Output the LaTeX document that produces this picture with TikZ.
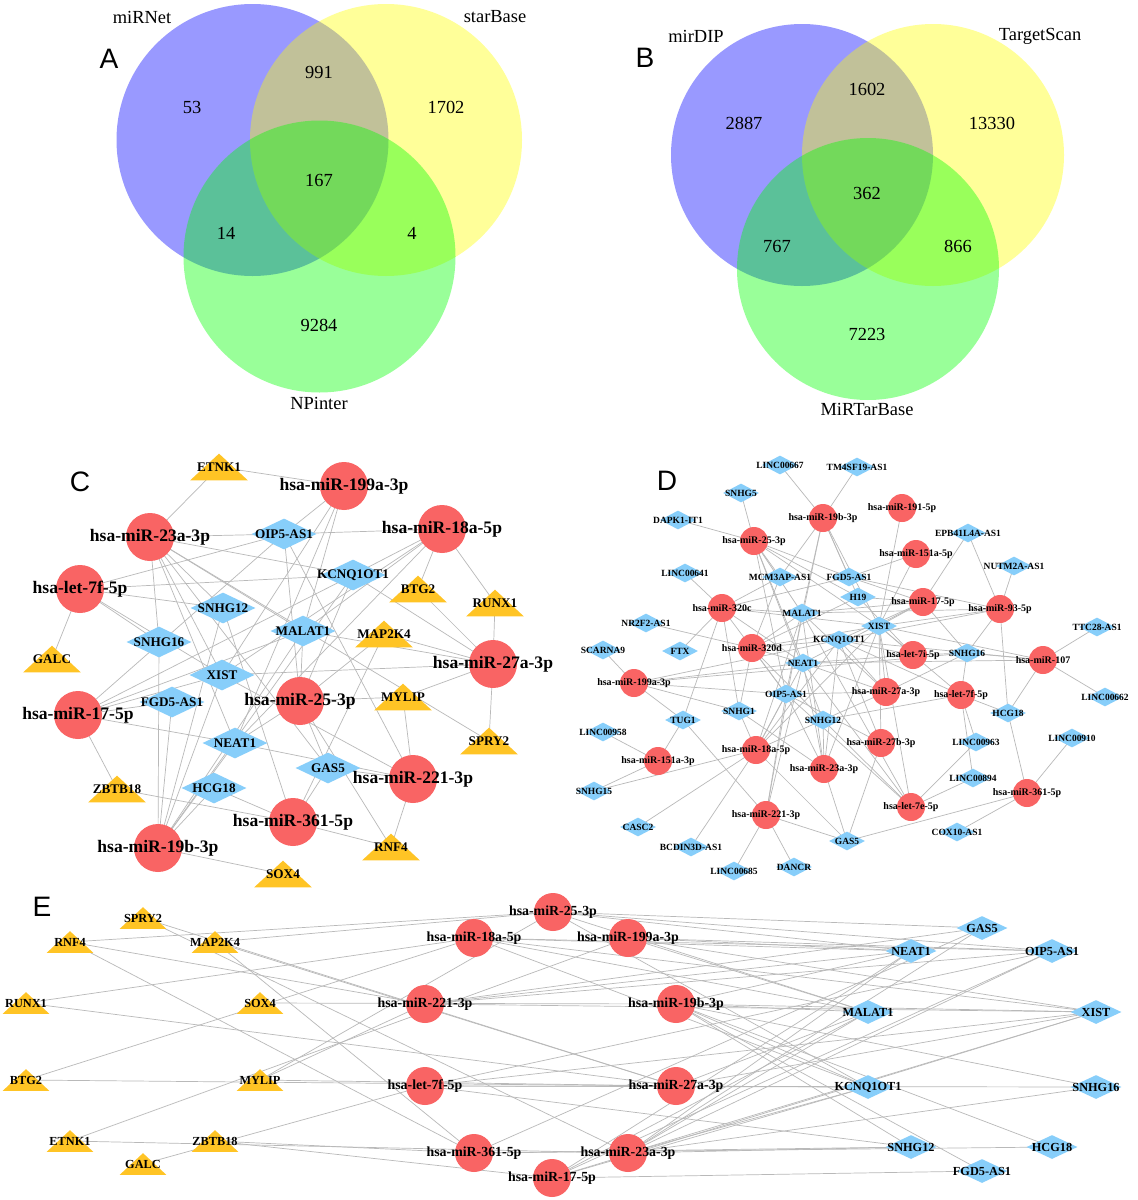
\documentclass[tikz,border=0pt]{standalone}
\usepackage{fontspec}
\setmainfont{Liberation Serif}
\newfontfamily\lettfont{Liberation Sans}
\definecolor{vblue}{RGB}{0,0,255}
\definecolor{vyellow}{RGB}{255,255,0}
\definecolor{vgreen}{RGB}{0,255,0}
\definecolor{mired}{RGB}{249,100,100}
\definecolor{lncblue}{RGB}{135,206,250}
\definecolor{mrnayel}{RGB}{255,196,37}
\definecolor{edgegray}{RGB}{185,185,185}
\pgfdeclarelayer{edges}
\pgfdeclarelayer{front}
\pgfsetlayers{edges,main,front}
\tikzset{
 edge/.style={draw=edgegray, line width=0.4pt},
 vlab/.style={font=\fontsize{10.5}{12}\selectfont, inner sep=0},
 panel/.style={font=\lettfont\fontsize{16}{18}\selectfont, inner sep=0},
 cC/.style={circle, fill=mired, inner sep=0, minimum size=0.96cm},
 cD/.style={circle, fill=mired, inner sep=0, minimum size=0.56cm},
 cE/.style={circle, fill=mired, inner sep=0, minimum size=0.76cm},
 mC/.style={font=\fontsize{10}{12}\selectfont\bfseries, inner sep=0},
 oC/.style={font=\fontsize{7.5}{9}\selectfont\bfseries, inner sep=0},
 mD/.style={font=\fontsize{5.7}{7}\selectfont\bfseries, inner sep=0},
 oD/.style={font=\fontsize{5.4}{6.5}\selectfont\bfseries, inner sep=0},
 mE/.style={font=\fontsize{7.9}{9.5}\selectfont\bfseries, inner sep=0},
 oE/.style={font=\fontsize{7}{8.5}\selectfont\bfseries, inner sep=0},
}
% name, pos, circle style, text style, text
\newcommand\Mir[5]{%
  \node[#3] (#1) at (#2) {};
  \begin{pgfonlayer}{front}\node[#4] (#1t) at (#2) {#5};\end{pgfonlayer}}
% name, pos, width, height, text style, text
\newcommand\Lnc[6]{%
  \node[inner sep=0, minimum width=#3, minimum height=#4] (#1) at (#2) {};
  \fill[lncblue] (#1.west) -- (#1.north) -- (#1.east) -- (#1.south) -- cycle;
  \begin{pgfonlayer}{front}\node[#5] (#1t) at (#2) {#6};\end{pgfonlayer}}
\newcommand\Mrna[6]{%
  \node[inner sep=0, minimum width=#3, minimum height=#4] (#1) at (#2) {};
  \fill[mrnayel] (#1.south west) -- (#1.south east) -- (#1.north) -- cycle;
  \begin{pgfonlayer}{front}\node[#5] (#1t) at (#2) {#6};\end{pgfonlayer}}
\begin{document}
\begin{tikzpicture}[x=0.02cm,y=-0.02cm]
\begin{pgfonlayer}{edges}
\fill[white] (0,0) rectangle (1138,1200);
\end{pgfonlayer}
\useasboundingbox (0,0) rectangle (1138,1200);

% ---------------- Venn A ----------------
\fill[vblue, fill opacity=0.4] (252.5,140) circle[radius=136];
\fill[vyellow, fill opacity=0.4] (386,140) circle[radius=136];
\fill[vgreen, fill opacity=0.4] (319.5,256.5) circle[radius=136];
\node[panel] (pA) at (109,59) {A};
\node[vlab] (vAa) at (142,17) {miRNet};
\node[vlab] (vAb) at (495,17) {starBase};
\node[vlab] (vAc) at (319,403) {NPinter};
\node[vlab] (nA1) at (192,107) {53};
\node[vlab] (nA2) at (319,72) {991};
\node[vlab] (nA3) at (446,107) {1702};
\node[vlab] (nA4) at (319,180) {167};
\node[vlab] (nA5) at (226,233) {14};
\node[vlab] (nA6) at (412,233) {4};
\node[vlab] (nA7) at (319,325) {9284};

% ---------------- Venn B ----------------
\fill[vblue, fill opacity=0.4] (802,155) circle[radius=131];
\fill[vyellow, fill opacity=0.4] (933,155) circle[radius=131];
\fill[vgreen, fill opacity=0.4] (868,269) circle[radius=131];
\node[panel] (pB) at (645,58) {B};
\node[vlab] (vBa) at (696,36) {mirDIP};
\node[vlab] (vBb) at (1040,36) {TargetScan};
\node[vlab] (vBc) at (867,409) {MiRTarBase};
\node[vlab] (nB1) at (744,123) {2887};
\node[vlab] (nB2) at (867,89) {1602};
\node[vlab] (nB3) at (992,123) {13330};
\node[vlab] (nB4) at (867,193) {362};
\node[vlab] (nB5) at (777,246) {767};
\node[vlab] (nB6) at (958,246) {866};
\node[vlab] (nB7) at (867,334) {7223};

% ---------------- Panel C ----------------
\node[panel] (pC) at (80,482) {C};
\Mir{Cm199a}{344,486}{cC}{mC}{hsa-miR-199a-3p}
\Mir{Cm23a}{150,537}{cC}{mC}{hsa-miR-23a-3p}
\Mir{Cm18a}{442,529}{cC}{mC}{hsa-miR-18a-5p}
\Mir{Cl7f}{80,589}{cC}{mC}{hsa-let-7f-5p}
\Mir{Cm27a}{493,664}{cC}{mC}{hsa-miR-27a-3p}
\Mir{Cm25}{300,701}{cC}{mC}{hsa-miR-25-3p}
\Mir{Cm17}{78,715}{cC}{mC}{hsa-miR-17-5p}
\Mir{Cm221}{413,779}{cC}{mC}{hsa-miR-221-3p}
\Mir{Cm361}{293,822}{cC}{mC}{hsa-miR-361-5p}
\Mir{Cm19b}{158,848}{cC}{mC}{hsa-miR-19b-3p}
\Lnc{CnOIP}{284,534}{1.28cm}{0.6cm}{oC}{OIP5-AS1}
\Lnc{CnKCN}{353,575}{1.28cm}{0.6cm}{oC}{KCNQ1OT1}
\Lnc{CnS12}{223,608}{1.28cm}{0.6cm}{oC}{SNHG12}
\Lnc{CnS16}{159,642}{1.28cm}{0.6cm}{oC}{SNHG16}
\Lnc{CnMAL}{303,631}{1.28cm}{0.6cm}{oC}{MALAT1}
\Lnc{CnXIST}{222,675}{1.28cm}{0.6cm}{oC}{XIST}
\Lnc{CnFGD}{172,702}{1.28cm}{0.6cm}{oC}{FGD5-AS1}
\Lnc{CnNEAT}{235,743}{1.28cm}{0.6cm}{oC}{NEAT1}
\Lnc{CnGAS}{328,768}{1.28cm}{0.6cm}{oC}{GAS5}
\Lnc{CnHCG}{214,788}{1.28cm}{0.6cm}{oC}{HCG18}
\Mrna{CtETNK}{219,467}{1.14cm}{0.52cm}{oC}{ETNK1}
\Mrna{CtBTG}{418,589}{1.14cm}{0.52cm}{oC}{BTG2}
\Mrna{CtRUNX}{495,603}{1.14cm}{0.52cm}{oC}{RUNX1}
\Mrna{CtGALC}{52,659}{1.14cm}{0.52cm}{oC}{GALC}
\Mrna{CtMAP}{384,634}{1.14cm}{0.52cm}{oC}{MAP2K4}
\Mrna{CtMYLIP}{403,697}{1.14cm}{0.52cm}{oC}{MYLIP}
\Mrna{CtSPRY}{489,741}{1.14cm}{0.52cm}{oC}{SPRY2}
\Mrna{CtZBTB}{117,789}{1.14cm}{0.52cm}{oC}{ZBTB18}
\Mrna{CtRNF}{391,847}{1.14cm}{0.52cm}{oC}{RNF4}
\Mrna{CtSOX}{283,874}{1.14cm}{0.52cm}{oC}{SOX4}

% ---------------- Panel E ----------------
\node[panel] (pE) at (42,907) {E};
\Mrna{EtSPRY}{143,918}{0.92cm}{0.42cm}{oE}{SPRY2}
\Mrna{EtRNF}{70,942}{0.92cm}{0.42cm}{oE}{RNF4}
\Mrna{EtMAP}{215,942}{0.92cm}{0.42cm}{oE}{MAP2K4}
\Mrna{EtRUNX}{26,1003}{0.92cm}{0.42cm}{oE}{RUNX1}
\Mrna{EtSOX}{260,1003}{0.92cm}{0.42cm}{oE}{SOX4}
\Mrna{EtBTG}{26,1080}{0.92cm}{0.42cm}{oE}{BTG2}
\Mrna{EtMYLIP}{260,1080}{0.92cm}{0.42cm}{oE}{MYLIP}
\Mrna{EtETNK}{70,1141}{0.92cm}{0.42cm}{oE}{ETNK1}
\Mrna{EtZBTB}{215,1141}{0.92cm}{0.42cm}{oE}{ZBTB18}
\Mrna{EtGALC}{143,1164}{0.92cm}{0.42cm}{oE}{GALC}
\Mir{Em25}{553,912}{cE}{mE}{hsa-miR-25-3p}
\Mir{Em18a}{474,938}{cE}{mE}{hsa-miR-18a-5p}
\Mir{Em199a}{628,938}{cE}{mE}{hsa-miR-199a-3p}
\Mir{Em221}{425,1004}{cE}{mE}{hsa-miR-221-3p}
\Mir{Em19b}{676,1004}{cE}{mE}{hsa-miR-19b-3p}
\Mir{El7f}{425,1086}{cE}{mE}{hsa-let-7f-5p}
\Mir{Em27a}{676,1086}{cE}{mE}{hsa-miR-27a-3p}
\Mir{Em361}{474,1153}{cE}{mE}{hsa-miR-361-5p}
\Mir{Em23a}{628,1153}{cE}{mE}{hsa-miR-23a-3p}
\Mir{Em17}{552,1178}{cE}{mE}{hsa-miR-17-5p}
\Lnc{EnGAS}{982,928}{1.0cm}{0.46cm}{oE}{GAS5}
\Lnc{EnNEAT}{911,951}{1.0cm}{0.46cm}{oE}{NEAT1}
\Lnc{EnOIP}{1052,951}{1.0cm}{0.46cm}{oE}{OIP5-AS1}
\Lnc{EnMAL}{868,1012}{1.0cm}{0.46cm}{oE}{MALAT1}
\Lnc{EnXIST}{1096,1012}{1.0cm}{0.46cm}{oE}{XIST}
\Lnc{EnKCN}{868,1087}{1.0cm}{0.46cm}{oE}{KCNQ1OT1}
\Lnc{EnS16}{1096,1087}{1.0cm}{0.46cm}{oE}{SNHG16}
\Lnc{EnS12}{911,1147}{1.0cm}{0.46cm}{oE}{SNHG12}
\Lnc{EnHCG}{1052,1147}{1.0cm}{0.46cm}{oE}{HCG18}
\Lnc{EnFGD}{982,1171}{1.0cm}{0.46cm}{oE}{FGD5-AS1}

\begin{pgfonlayer}{edges}
\foreach \p in {C,E}{
 \foreach \a/\b in {tETNK/m199a, tETNK/m23a, tBTG/m18a, tBTG/m27a, tRUNX/m18a, tRUNX/m27a, tGALC/l7f,
   tMYLIP/m25, tMYLIP/m27a, tMYLIP/m221, tZBTB/m17, tZBTB/m361, tSOX/m19b, tRNF/m25, tRNF/m221,
   tRNF/m361, tSPRY/m27a, tSPRY/m23a, tMAP/m27a, tMAP/m25, tMAP/m361,
   m23a/nOIP, m23a/nS16, m23a/nXIST, m23a/nNEAT, m23a/nMAL, m23a/nGAS, m23a/nKCN, m23a/nS12,
   m17/nMAL, m17/nXIST, m17/nKCN, m17/nNEAT, m17/nFGD, m17/nOIP,
   m18a/nOIP, m18a/nKCN, m18a/nMAL, m18a/nXIST, m18a/nNEAT,
   m199a/nOIP, m199a/nMAL, m199a/nXIST, m199a/nNEAT,
   l7f/nS12, l7f/nS16, l7f/nXIST, l7f/nKCN, l7f/nOIP,
   m27a/nXIST, m27a/nKCN, m27a/nMAL,
   m25/nMAL, m25/nKCN, m25/nOIP, m25/nNEAT, m25/nGAS,
   m221/nGAS, m221/nNEAT, m221/nOIP, m221/nXIST,
   m361/nHCG, m361/nGAS, m361/nS12,
   m19b/nFGD, m19b/nHCG, m19b/nXIST, m19b/nMAL, m19b/nNEAT, m19b/nKCN, m19b/nS12, m19b/nS16}
  {\draw[edge] (\p\a.center) -- (\p\b.center);}
}
\end{pgfonlayer}

% ---------------- Panel D ----------------
\node[panel] (pD) at (667,481) {D};
\Mir{Dm19b}{823,518}{cD}{mD}{hsa-miR-19b-3p}
\Mir{Dm191}{902,508}{cD}{mD}{hsa-miR-191-5p}
\Mir{Dm25}{754,541}{cD}{mD}{hsa-miR-25-3p}
\Mir{Dm151a5}{916,554}{cD}{mD}{hsa-miR-151a-5p}
\Mir{Dm17}{923,602}{cD}{mD}{hsa-miR-17-5p}
\Mir{Dm320c}{722,608}{cD}{mD}{hsa-miR-320c}
\Mir{Dm93}{1000,609}{cD}{mD}{hsa-miR-93-5p}
\Mir{Dm320d}{752,648}{cD}{mD}{hsa-miR-320d}
\Mir{Dl7i}{913,655}{cD}{mD}{hsa-let-7i-5p}
\Mir{Dm107}{1043,660}{cD}{mD}{hsa-miR-107}
\Mir{Dm199a}{634,683}{cD}{mD}{hsa-miR-199a-3p}
\Mir{Dm27a}{886,692}{cD}{mD}{hsa-miR-27a-3p}
\Mir{Dl7f}{961,695}{cD}{mD}{hsa-let-7f-5p}
\Mir{Dm27b}{881,743}{cD}{mD}{hsa-miR-27b-3p}
\Mir{Dm18a}{756,750}{cD}{mD}{hsa-miR-18a-5p}
\Mir{Dm151a3}{658,761}{cD}{mD}{hsa-miR-151a-3p}
\Mir{Dm23a}{824,769}{cD}{mD}{hsa-miR-23a-3p}
\Mir{Dl7e}{911,807}{cD}{mD}{hsa-let-7e-5p}
\Mir{Dm221}{766,815}{cD}{mD}{hsa-miR-221-3p}
\Mir{Dm361}{1027,793}{cD}{mD}{hsa-miR-361-5p}
\Lnc{DL667}{780,465}{0.7cm}{0.36cm}{oD}{LINC00667}
\Lnc{DTM4}{857,467}{0.7cm}{0.36cm}{oD}{TM4SF19-AS1}
\Lnc{DS5}{741,493}{0.7cm}{0.36cm}{oD}{SNHG5}
\Lnc{DDAP}{678,520}{0.7cm}{0.36cm}{oD}{DAPK1-IT1}
\Lnc{DEPB}{968,533}{0.7cm}{0.36cm}{oD}{EPB41L4A-AS1}
\Lnc{DNUT}{1014,566}{0.7cm}{0.36cm}{oD}{NUTM2A-AS1}
\Lnc{DL641}{685,573}{0.7cm}{0.36cm}{oD}{LINC00641}
\Lnc{DMCM}{780,577}{0.7cm}{0.36cm}{oD}{MCM3AP-AS1}
\Lnc{DFGD}{849,577}{0.7cm}{0.36cm}{oD}{FGD5-AS1}
\Lnc{DH19}{858,597}{0.7cm}{0.36cm}{oD}{H19}
\Lnc{DMAL}{802,613}{0.7cm}{0.36cm}{oD}{MALAT1}
\Lnc{DNR2}{646,623}{0.7cm}{0.36cm}{oD}{NR2F2-AS1}
\Lnc{DXIST}{879,626}{0.7cm}{0.36cm}{oD}{XIST}
\Lnc{DTTC}{1097,627}{0.7cm}{0.36cm}{oD}{TTC28-AS1}
\Lnc{DKCN}{839,640}{0.7cm}{0.36cm}{oD}{KCNQ1OT1}
\Lnc{DSCA}{603,650}{0.7cm}{0.36cm}{oD}{SCARNA9}
\Lnc{DFTX}{680,651}{0.7cm}{0.36cm}{oD}{FTX}
\Lnc{DS16}{967,653}{0.7cm}{0.36cm}{oD}{SNHG16}
\Lnc{DNEAT}{803,663}{0.7cm}{0.36cm}{oD}{NEAT1}
\Lnc{DOIP}{786,694}{0.7cm}{0.36cm}{oD}{OIP5-AS1}
\Lnc{DL662}{1105,697}{0.7cm}{0.36cm}{oD}{LINC00662}
\Lnc{DS1}{739,711}{0.7cm}{0.36cm}{oD}{SNHG1}
\Lnc{DHCG}{1008,713}{0.7cm}{0.36cm}{oD}{HCG18}
\Lnc{DTUG}{683,720}{0.7cm}{0.36cm}{oD}{TUG1}
\Lnc{DS12}{823,720}{0.7cm}{0.36cm}{oD}{SNHG12}
\Lnc{DL958}{603,732}{0.7cm}{0.36cm}{oD}{LINC00958}
\Lnc{DL910}{1072,738}{0.7cm}{0.36cm}{oD}{LINC00910}
\Lnc{DL963}{976,742}{0.7cm}{0.36cm}{oD}{LINC00963}
\Lnc{DL894}{973,778}{0.7cm}{0.36cm}{oD}{LINC00894}
\Lnc{DS15}{594,791}{0.7cm}{0.36cm}{oD}{SNHG15}
\Lnc{DCASC}{638,827}{0.7cm}{0.36cm}{oD}{CASC2}
\Lnc{DCOX}{957,832}{0.7cm}{0.36cm}{oD}{COX10-AS1}
\Lnc{DGAS}{847,841}{0.7cm}{0.36cm}{oD}{GAS5}
\Lnc{DBCD}{691,847}{0.7cm}{0.36cm}{oD}{BCDIN3D-AS1}
\Lnc{DDAN}{794,867}{0.7cm}{0.36cm}{oD}{DANCR}
\Lnc{DL685}{734,871}{0.7cm}{0.36cm}{oD}{LINC00685}

\begin{pgfonlayer}{edges}
\foreach \a/\b in {L667/m19b, TM4/m19b, S5/m25, DAP/m25, EPB/m17, EPB/m93, NUT/m93, L641/m320c,
  NR2/m320d, SCA/m199a, FTX/m320c, TTC/m107, L662/m107, L910/m361, COX/m361, L963/l7f, L963/l7e,
  L894/l7f, L894/l7e, L958/m151a3, S15/m151a3, S15/m18a, CASC/m18a, BCD/m18a, L685/m221, DAN/m221,
  TUG/m151a3, TUG/m199a, TUG/m221, TUG/m320c, GAS/m221, GAS/m23a, GAS/m361, GAS/m18a, GAS/m27b,
  HCG/m107, HCG/m361, HCG/l7f, HCG/m93, XIST/m191, XIST/m151a5, FGD/m151a5, MCM/m25, MCM/m320c,
  MCM/m19b, MCM/m320d,
  XIST/m19b, XIST/m17, XIST/m93, XIST/m107, XIST/l7i, XIST/m27a, XIST/l7f, XIST/m27b, XIST/m23a,
  XIST/m320d, XIST/m320c, XIST/m18a, XIST/m25, XIST/l7e,
  MAL/m19b, MAL/m25, MAL/m320c, MAL/m320d, MAL/m17, MAL/m93, MAL/m27a, MAL/m18a, MAL/m221, MAL/m23a, MAL/l7e,
  KCN/m17, KCN/m93, KCN/m107, KCN/m320d, KCN/l7i, KCN/m27a, KCN/l7f, KCN/m18a, KCN/m23a, KCN/m199a, KCN/m27b,
  NEAT/m320c, NEAT/m320d, NEAT/m199a, NEAT/l7i, NEAT/m107, NEAT/m27a, NEAT/m18a, NEAT/m23a, NEAT/m221,
  NEAT/l7e, NEAT/m17, NEAT/m25,
  OIP/m199a, OIP/m27a, OIP/m320d, OIP/m320c, OIP/m18a, OIP/m23a, OIP/m221, OIP/m25, OIP/m19b, OIP/l7e, OIP/m27b,
  S12/l7f, S12/m320d, S12/m18a, S12/m23a, S12/l7e, S12/m25, S12/m27a,
  S16/m107, S16/l7i, S16/l7f, S16/m17, S16/m93, S16/m27a, S16/m199a,
  S1/m320c, S1/m320d, S1/m18a, S1/m23a, S1/m199a,
  FGD/m25, FGD/m19b, FGD/m17, FGD/m93, FGD/m320c,
  H19/m17, H19/m320d, H19/m25, H19/m19b, H19/l7i}
 {\draw[edge] (D\a.center) -- (D\b.center);}
\end{pgfonlayer}
\end{tikzpicture}
\end{document}
